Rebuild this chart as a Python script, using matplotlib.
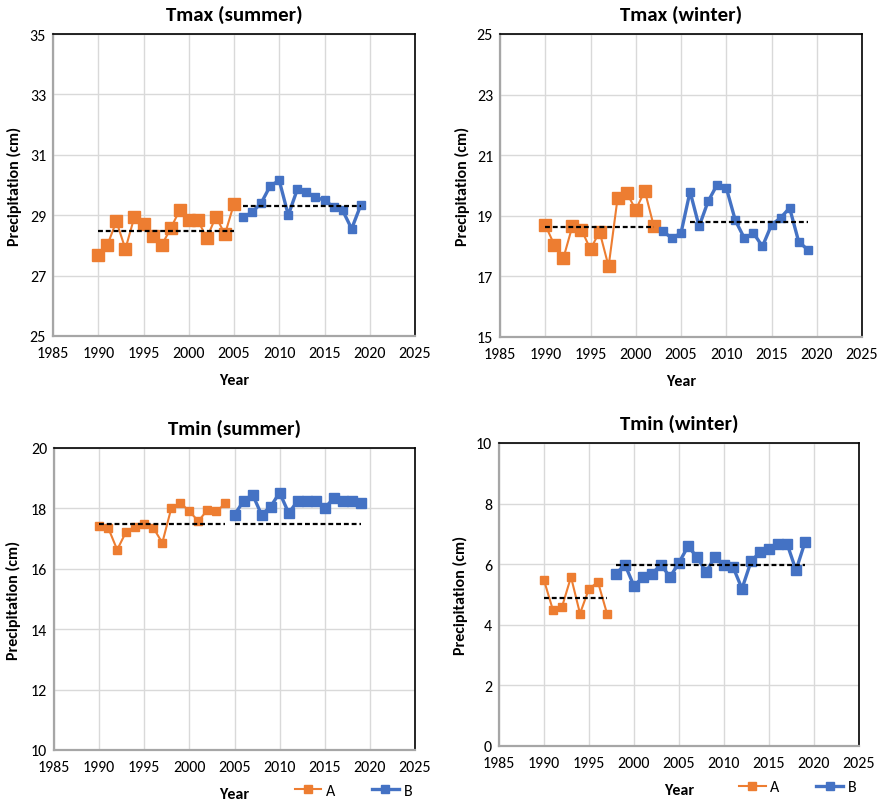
import matplotlib
matplotlib.use("Agg")
import matplotlib.pyplot as plt
from matplotlib.lines import Line2D

plt.rcParams['font.family'] = ['Carlito', 'DejaVu Sans']

ORANGE = '#ED7D31'
BLUE = '#4472C4'

# ---- Data ----
titles = ["Tmax (summer)", "Tmax (winter)", "Tmin (summer)", "Tmin (winter)"]
ylims = [(25, 35), (15, 25), (10, 20), (0, 10)]
ytick_steps = [2, 2, 2, 2]

# Tmax (summer)
tmax_s_years_a = list(range(1990, 2006))
tmax_s_vals_a = [27.68, 28.0, 28.8, 27.88, 28.95, 28.72, 28.3, 28.0, 28.56, 29.17,
                 28.83, 28.83, 28.25, 28.95, 28.37, 29.38]
tmax_s_years_b = list(range(2006, 2020))
tmax_s_vals_b = [28.93, 29.1, 29.4, 29.97, 30.15, 29.0, 29.86, 29.77, 29.6, 29.49,
                 29.28, 29.16, 28.55, 29.33]
tmax_s_mean_a = 28.48
tmax_s_mean_b = 29.3
tmax_s_span_a = (1990, 2005)
tmax_s_span_b = (2006, 2019)

# Tmax (winter)
tmax_w_years_a = list(range(1990, 2003))
tmax_w_vals_a = [18.7, 18.04, 17.6, 18.66, 18.54, 17.89, 18.48, 17.33, 19.6, 19.76,
                 19.2, 19.82, 18.65]
tmax_w_years_b = list(range(2003, 2020))
tmax_w_vals_b = [18.49, 18.26, 18.43, 19.8, 18.65, 19.48, 20.03, 19.93, 18.85, 18.26,
                 18.43, 17.99, 18.7, 18.93, 19.26, 18.15, 17.88]
tmax_w_mean_a = 18.62
tmax_w_mean_b = 18.78
tmax_w_span_a = (1990, 2002)
tmax_w_span_b = (2006, 2019)

# Tmin (summer)
tmin_s_years_a = list(range(1990, 2005))
tmin_s_vals_a = [17.41, 17.36, 16.63, 17.23, 17.4, 17.47, 17.36, 16.86, 18.01, 18.19,
                 17.9, 17.58, 17.95, 17.9, 18.17]
tmin_s_years_b = list(range(2005, 2020))
tmin_s_vals_b = [17.79, 18.24, 18.46, 17.79, 18.06, 18.52, 17.85, 18.24, 18.24, 18.24,
                 18.01, 18.34, 18.24, 18.24, 18.17]
tmin_s_mean_a = 17.5
tmin_s_mean_b = 17.5
tmin_s_span_a = (1990, 2004)
tmin_s_span_b = (2005, 2019)

# Tmin (winter)
tmin_w_years_a = list(range(1990, 1998))
tmin_w_vals_a = [5.47, 4.48, 4.59, 5.58, 4.37, 5.19, 5.41, 4.37]
tmin_w_years_b = list(range(1998, 2020))
tmin_w_vals_b = [5.69, 5.98, 5.28, 5.58, 5.69, 5.98, 5.58, 6.05, 6.59, 6.24, 5.74,
                 6.24, 5.96, 5.91, 5.19, 6.09, 6.4, 6.51, 6.68, 6.68, 5.8, 6.73]
tmin_w_mean_a = 4.88
tmin_w_mean_b = 5.98
tmin_w_span_a = (1990, 1997)
tmin_w_span_b = (1998, 2019)

xticks = [1985, 1990, 1995, 2000, 2005, 2010, 2015, 2020, 2025]
series_labels = ["A", "B"]
ylabel_text = "Precipitation (cm)"
xlabel_text = "Year"

panels = [
    (tmax_s_years_a, tmax_s_vals_a, tmax_s_years_b, tmax_s_vals_b,
     tmax_s_mean_a, tmax_s_mean_b, tmax_s_span_a, tmax_s_span_b),
    (tmax_w_years_a, tmax_w_vals_a, tmax_w_years_b, tmax_w_vals_b,
     tmax_w_mean_a, tmax_w_mean_b, tmax_w_span_a, tmax_w_span_b),
    (tmin_s_years_a, tmin_s_vals_a, tmin_s_years_b, tmin_s_vals_b,
     tmin_s_mean_a, tmin_s_mean_b, tmin_s_span_a, tmin_s_span_b),
    (tmin_w_years_a, tmin_w_vals_a, tmin_w_years_b, tmin_w_vals_b,
     tmin_w_mean_a, tmin_w_mean_b, tmin_w_span_a, tmin_w_span_b),
]

# ---- Layout ----
W, H = 877, 803
fig = plt.figure(figsize=(W / 100, H / 100), dpi=100)

# axes boxes in pixels: left, top, right, bottom
boxes = [(53, 35, 415, 337), (500, 35, 862, 338),
         (54, 449, 415, 751), (499, 444, 859, 747)]
ylabel_off = [39, 38, 41, 39]
orange_ms = [8, 8, 6, 5.5]
blue_ms = [6, 6, 6.5, 6.5]

for i, (box, data) in enumerate(zip(boxes, panels)):
    l, t, r, b = box
    ax = fig.add_axes([l / W, 1 - b / H, (r - l) / W, (b - t) / H])
    ya, va, yb, vb, ma, mb, sa, sb = data
    ax.plot(ya, va, color=ORANGE, lw=1.5, marker='s', ms=orange_ms[i],
            zorder=3, label=series_labels[0])
    ax.plot(yb, vb, color=BLUE, lw=2.4, marker='s', ms=blue_ms[i],
            zorder=3, label=series_labels[1])
    ax.plot(list(sa), [ma, ma], color='black', lw=1.6, ls=(0, (2.2, 1.3)), zorder=4)
    ax.plot(list(sb), [mb, mb], color='black', lw=1.6, ls=(0, (2.2, 1.3)), zorder=4)

    ax.set_xlim(1985, 2025)
    lo, hi = ylims[i]
    ax.set_ylim(lo, hi)
    ax.set_xticks(xticks)
    ax.set_yticks(list(range(lo, hi + 1, ytick_steps[i])))
    ax.grid(True, color='#d9d9d9', lw=1.0)
    ax.set_axisbelow(True)
    ax.tick_params(length=0, labelsize=11.5, colors='#000000')
    ax.tick_params(axis='x', pad=7)
    ax.tick_params(axis='y', pad=5)
    for side in ['top', 'right']:
        ax.spines[side].set_color('#000000')
        ax.spines[side].set_linewidth(1.2)
    for side in ['left', 'bottom']:
        ax.spines[side].set_color('#a6a6a6')
        ax.spines[side].set_linewidth(1.6)

    ax.set_title(titles[i], fontsize=15, fontweight='bold', pad=10)
    ax.set_ylabel(ylabel_text, fontsize=11.5, fontweight='bold', va='center')
    ax.yaxis.set_label_coords(-ylabel_off[i] / (r - l), 0.5)
    ax.set_xlabel(xlabel_text, fontsize=11.5, fontweight='bold', va='center')
    ax.xaxis.set_label_coords(0.5, -44 / (b - t))

    if i >= 2:
        handles = [Line2D([], [], color=ORANGE, lw=1.5, marker='s', ms=6),
                   Line2D([], [], color=BLUE, lw=2.4, marker='s', ms=6)]
        ax.legend(handles, series_labels, ncol=2, loc='center',
                  bbox_to_anchor=(0.83, -41 / (b - t)), frameon=False,
                  fontsize=11.5, handlelength=1.65, handletextpad=0.3,
                  columnspacing=2.3, borderpad=0, borderaxespad=0)

fig.savefig("out.png", dpi=100)
